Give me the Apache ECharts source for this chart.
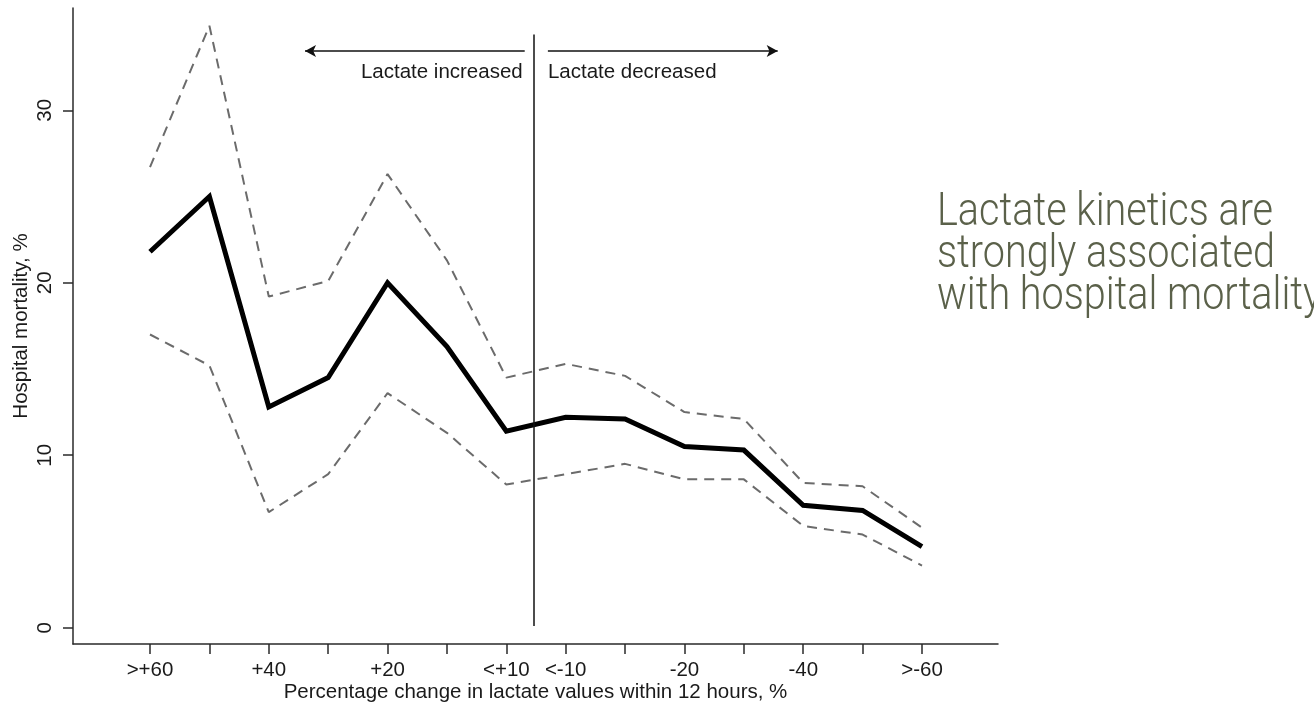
<!DOCTYPE html>
<html>
<head>
<meta charset="utf-8">
<script src="https://cdn.jsdelivr.net/npm/echarts@6/dist/echarts.min.js"></script>
<style>
  html, body { margin: 0; padding: 0; background: #fff; }
  #chart { width: 1314px; height: 705px; }
</style>
</head>
<body>
<div id="chart"></div>
<script>
// x 刻度文字（空字符串 = 只有刻度没有文字）
var tickLabels = ['>+60', '', '+40', '', '+20', '', '<+10', '<-10', '', '-20', '', '-40', '', '>-60'];
// 死亡率 %
var mortality = [21.8, 25.0, 12.8, 14.5, 20.0, 16.3, 11.4, 12.2, 12.1, 10.5, 10.3, 7.1, 6.8, 4.7];
// 95% 置信区间
var upperCI = [26.7, 34.9, 19.2, 20.1, 26.3, 21.3, 14.5, 15.3, 14.6, 12.5, 12.1, 8.4, 8.2, 5.8];
var lowerCI = [17.0, 15.2, 6.7, 8.9, 13.6, 11.3, 8.3, 8.9, 9.5, 8.6, 8.6, 5.9, 5.4, 3.6];
var yTicks = [0, 10, 20, 30];

// 分界线和箭头（数据坐标）
var dividerX = 6.46;
var arrowY = 33.43;
var leftArrow = [2.61, 6.31];
var rightArrow = [6.70, 10.57];

var font = 'Liberation Sans, Arial, Helvetica, sans-serif';
var axisColor = '#2a2a2a';

function pairs(arr) {
    return arr.map(function (v, i) { return [i, v]; });
}

var option = {
    animation: false,
    grid: {
        left: 73,
        right: 316,
        top: 8,
        bottom: 61,
        outerBoundsMode: 'none',
        containLabel: false
    },
    xAxis: {
        type: 'value',
        min: -1.297,
        max: 14.28,
        name: 'Percentage change in lactate values within 12 hours, %',
        nameLocation: 'middle',
        nameGap: 38,
        nameMoveOverlap: false,
        nameTextStyle: { fontFamily: font, fontSize: 20.5, color: '#1a1a1a' },
        splitLine: { show: false },
        axisLine: { onZero: false, lineStyle: { color: axisColor, width: 1.5 } },
        axisTick: {
            length: 10,
            customValues: tickLabels.map(function (t, i) { return i; }),
            lineStyle: { color: axisColor, width: 1.5 }
        },
        axisLabel: {
            margin: 16,
            fontFamily: font,
            fontSize: 20.5,
            color: '#1a1a1a',
            customValues: tickLabels.map(function (t, i) { return i; }),
            formatter: function (v) { return tickLabels[Math.round(v)] || ''; }
        }
    },
    yAxis: {
        type: 'value',
        min: -0.945,
        max: 35.93,
        name: 'Hospital mortality, %',
        nameLocation: 'middle',
        nameGap: 41,
        nameMoveOverlap: false,
        nameTextStyle: { fontFamily: font, fontSize: 20.5, color: '#1a1a1a' },
        splitLine: { show: false },
        axisLine: { onZero: false, lineStyle: { color: axisColor, width: 1.5 } },
        axisTick: {
            length: 10,
            customValues: yTicks,
            lineStyle: { color: axisColor, width: 1.5 }
        },
        axisLabel: {
            rotate: 90,
            margin: 17,
            fontFamily: font,
            fontSize: 20.5,
            color: '#1a1a1a',
            customValues: yTicks
        }
    },
    series: [
        {
            name: 'upper',
            type: 'line',
            data: pairs(upperCI),
            symbol: 'none',
            lineStyle: { color: '#6b6b6b', width: 2, type: [10, 7] },
            z: 2
        },
        {
            name: 'lower',
            type: 'line',
            data: pairs(lowerCI),
            symbol: 'none',
            lineStyle: { color: '#6b6b6b', width: 2, type: [10, 7] },
            z: 2
        },
        {
            name: 'mortality',
            type: 'line',
            data: pairs(mortality),
            symbol: 'none',
            lineStyle: { color: '#000', width: 5, join: 'miter' },
            z: 3,
            markLine: {
                silent: true,
                animation: false,
                data: [
                    [
                        { coord: [dividerX, 0.1], symbol: 'none' },
                        { coord: [dividerX, 34.4], symbol: 'none' }
                    ],
                    [
                        {
                            coord: [leftArrow[0], arrowY], symbol: 'arrow', symbolSize: [9, 11],
                            label: {
                                show: true, position: 'insideEndBottom', distance: [2, 11],
                                formatter: 'Lactate increased'
                            }
                        },
                        { coord: [leftArrow[1], arrowY], symbol: 'none' }
                    ],
                    [
                        {
                            coord: [rightArrow[0], arrowY], symbol: 'none',
                            label: {
                                show: true, position: 'insideStartBottom', distance: [0, 11],
                                formatter: 'Lactate decreased'
                            }
                        },
                        { coord: [rightArrow[1], arrowY], symbol: 'arrow', symbolSize: [9, 11] }
                    ]
                ],
                lineStyle: { color: '#111', width: 1.5, type: 'solid' },
                label: {
                    show: false,
                    fontFamily: font,
                    fontSize: 20.5,
                    color: '#1a1a1a'
                }
            }
        }
    ],
    graphic: [
        {
            type: 'text',
            left: 937,
            top: 190,
            scaleX: 0.86,
            style: {
                text: 'Lactate kinetics are\nstrongly associated\nwith hospital mortality',
                fontFamily: 'Roboto, Liberation Sans, sans-serif',
                fontWeight: 300,
                fontSize: 46,
                lineHeight: 42,
                fill: '#5b614a'
            }
        }
    ]
};

var chart = echarts.init(document.getElementById('chart'));
chart.setOption(option);
</script>
</body>
</html>
